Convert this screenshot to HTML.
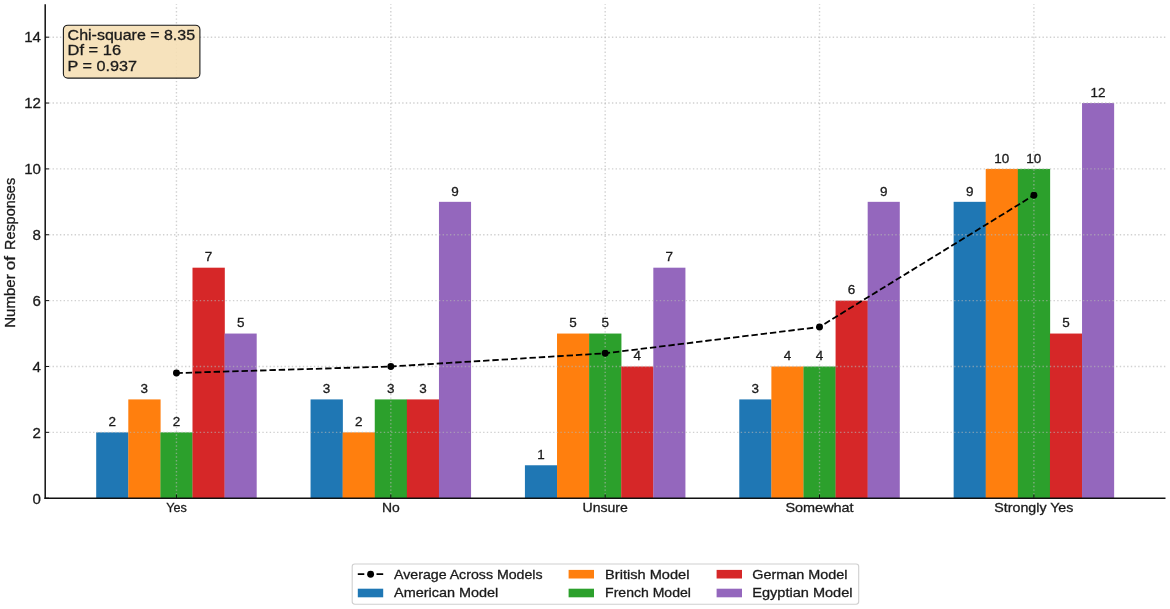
<!DOCTYPE html>
<html><head><meta charset="utf-8"><title>chart</title>
<style>
html,body{margin:0;padding:0;background:#fff;}
body{width:1170px;height:609px;overflow:hidden;font-family:"Liberation Sans", sans-serif;}
svg{display:block;will-change:transform;}
text{font-family:"Liberation Sans", sans-serif;fill:#1a1a1a;stroke:#1a1a1a;stroke-width:0.3px;}
</style></head><body>
<svg width="1170" height="609" viewBox="0 0 1170 609">
<rect x="0" y="0" width="1170" height="609" fill="#ffffff"/>

<g shape-rendering="geometricPrecision">
<rect x="96.20" y="432.34" width="32.30" height="65.86" fill="#1f77b4"/>
<rect x="310.56" y="399.41" width="32.30" height="98.79" fill="#1f77b4"/>
<rect x="524.92" y="465.27" width="32.30" height="32.93" fill="#1f77b4"/>
<rect x="739.28" y="399.41" width="32.30" height="98.79" fill="#1f77b4"/>
<rect x="953.64" y="201.83" width="32.30" height="296.37" fill="#1f77b4"/>
<rect x="128.30" y="399.41" width="32.30" height="98.79" fill="#ff7f0e"/>
<rect x="342.66" y="432.34" width="32.30" height="65.86" fill="#ff7f0e"/>
<rect x="557.02" y="333.55" width="32.30" height="164.65" fill="#ff7f0e"/>
<rect x="771.38" y="366.48" width="32.30" height="131.72" fill="#ff7f0e"/>
<rect x="985.74" y="168.90" width="32.30" height="329.30" fill="#ff7f0e"/>
<rect x="160.40" y="432.34" width="32.30" height="65.86" fill="#2ca02c"/>
<rect x="374.76" y="399.41" width="32.30" height="98.79" fill="#2ca02c"/>
<rect x="589.12" y="333.55" width="32.30" height="164.65" fill="#2ca02c"/>
<rect x="803.48" y="366.48" width="32.30" height="131.72" fill="#2ca02c"/>
<rect x="1017.84" y="168.90" width="32.30" height="329.30" fill="#2ca02c"/>
<rect x="192.50" y="267.69" width="32.30" height="230.51" fill="#d62728"/>
<rect x="406.86" y="399.41" width="32.30" height="98.79" fill="#d62728"/>
<rect x="621.22" y="366.48" width="32.30" height="131.72" fill="#d62728"/>
<rect x="835.58" y="300.62" width="32.30" height="197.58" fill="#d62728"/>
<rect x="1049.94" y="333.55" width="32.30" height="164.65" fill="#d62728"/>
<rect x="224.60" y="333.55" width="32.10" height="164.65" fill="#9467bd"/>
<rect x="438.96" y="201.83" width="32.10" height="296.37" fill="#9467bd"/>
<rect x="653.32" y="267.69" width="32.10" height="230.51" fill="#9467bd"/>
<rect x="867.68" y="201.83" width="32.10" height="296.37" fill="#9467bd"/>
<rect x="1082.04" y="103.04" width="32.10" height="395.16" fill="#9467bd"/>
</g>
<g stroke="#b4b4b4" stroke-opacity="0.62" stroke-width="1.39" stroke-dasharray="1.39 2.29" fill="none">
<line x1="45.20" y1="432.34" x2="1165.50" y2="432.34"/>
<line x1="45.20" y1="366.48" x2="1165.50" y2="366.48"/>
<line x1="45.20" y1="300.62" x2="1165.50" y2="300.62"/>
<line x1="45.20" y1="234.76" x2="1165.50" y2="234.76"/>
<line x1="45.20" y1="168.90" x2="1165.50" y2="168.90"/>
<line x1="45.20" y1="103.04" x2="1165.50" y2="103.04"/>
<line x1="45.20" y1="37.18" x2="1165.50" y2="37.18"/>
<line x1="176.45" y1="498.20" x2="176.45" y2="4.20"/>
<line x1="390.81" y1="498.20" x2="390.81" y2="4.20"/>
<line x1="605.17" y1="498.20" x2="605.17" y2="4.20"/>
<line x1="819.53" y1="498.20" x2="819.53" y2="4.20"/>
<line x1="1033.89" y1="498.20" x2="1033.89" y2="4.20"/>
</g>
<polyline points="176.45,373.07 390.81,366.48 605.17,353.31 819.53,326.96 1033.89,195.24" fill="none" stroke="#000" stroke-width="1.8" stroke-dasharray="6.4 2.9"/>
<circle cx="176.45" cy="373.07" r="3.45" fill="#000"/>
<circle cx="390.81" cy="366.48" r="3.45" fill="#000"/>
<circle cx="605.17" cy="353.31" r="3.45" fill="#000"/>
<circle cx="819.53" cy="326.96" r="3.45" fill="#000"/>
<circle cx="1033.89" cy="195.24" r="3.45" fill="#000"/>
<g stroke="#101010" fill="none">
<line x1="45.20" y1="4.20" x2="45.20" y2="498.95" stroke-width="1.5"/>
<line x1="44.45" y1="498.20" x2="1165.50" y2="498.20" stroke-width="1.5"/>
<line x1="45.20" y1="498.20" x2="49.00" y2="498.20" stroke-width="1.0"/>
<line x1="45.20" y1="432.34" x2="49.00" y2="432.34" stroke-width="1.0"/>
<line x1="45.20" y1="366.48" x2="49.00" y2="366.48" stroke-width="1.0"/>
<line x1="45.20" y1="300.62" x2="49.00" y2="300.62" stroke-width="1.0"/>
<line x1="45.20" y1="234.76" x2="49.00" y2="234.76" stroke-width="1.0"/>
<line x1="45.20" y1="168.90" x2="49.00" y2="168.90" stroke-width="1.0"/>
<line x1="45.20" y1="103.04" x2="49.00" y2="103.04" stroke-width="1.0"/>
<line x1="45.20" y1="37.18" x2="49.00" y2="37.18" stroke-width="1.0"/>
<line x1="176.45" y1="498.20" x2="176.45" y2="494.40" stroke-width="1.0"/>
<line x1="390.81" y1="498.20" x2="390.81" y2="494.40" stroke-width="1.0"/>
<line x1="605.17" y1="498.20" x2="605.17" y2="494.40" stroke-width="1.0"/>
<line x1="819.53" y1="498.20" x2="819.53" y2="494.40" stroke-width="1.0"/>
<line x1="1033.89" y1="498.20" x2="1033.89" y2="494.40" stroke-width="1.0"/>
</g>
<text x="41.0" y="503.50" font-size="15.3" text-anchor="end" textLength="8.4" lengthAdjust="spacingAndGlyphs">0</text>
<text x="41.0" y="437.64" font-size="15.3" text-anchor="end" textLength="8.4" lengthAdjust="spacingAndGlyphs">2</text>
<text x="41.0" y="371.78" font-size="15.3" text-anchor="end" textLength="8.4" lengthAdjust="spacingAndGlyphs">4</text>
<text x="41.0" y="305.92" font-size="15.3" text-anchor="end" textLength="8.4" lengthAdjust="spacingAndGlyphs">6</text>
<text x="41.0" y="240.06" font-size="15.3" text-anchor="end" textLength="8.4" lengthAdjust="spacingAndGlyphs">8</text>
<text x="41.0" y="174.20" font-size="15.3" text-anchor="end" textLength="16.8" lengthAdjust="spacingAndGlyphs">10</text>
<text x="41.0" y="108.34" font-size="15.3" text-anchor="end" textLength="16.8" lengthAdjust="spacingAndGlyphs">12</text>
<text x="41.0" y="42.48" font-size="15.3" text-anchor="end" textLength="16.8" lengthAdjust="spacingAndGlyphs">14</text>
<text x="176.45" y="511.9" font-size="13.3" text-anchor="middle" textLength="20.6" lengthAdjust="spacingAndGlyphs">Yes</text>
<text x="390.81" y="511.9" font-size="13.3" text-anchor="middle" textLength="17.8" lengthAdjust="spacingAndGlyphs">No</text>
<text x="605.17" y="511.9" font-size="13.3" text-anchor="middle" textLength="45.4" lengthAdjust="spacingAndGlyphs">Unsure</text>
<text x="819.53" y="511.9" font-size="13.3" text-anchor="middle" textLength="68.2" lengthAdjust="spacingAndGlyphs">Somewhat</text>
<text x="1033.89" y="511.9" font-size="13.3" text-anchor="middle" textLength="79.0" lengthAdjust="spacingAndGlyphs">Strongly Yes</text>
<g transform="translate(14.6,326.8) rotate(-90)" font-size="14.8">
<text x="-1.0" y="0" textLength="53.5" lengthAdjust="spacingAndGlyphs">Number</text>
<text x="56.6" y="0" textLength="14.3" lengthAdjust="spacingAndGlyphs">of</text>
<text x="76.8" y="0" textLength="72.1" lengthAdjust="spacingAndGlyphs">Responses</text>
</g>
<text x="112.25" y="426.04" font-size="12.8" text-anchor="middle" textLength="7.5" lengthAdjust="spacingAndGlyphs">2</text>
<text x="326.61" y="393.11" font-size="12.8" text-anchor="middle" textLength="7.5" lengthAdjust="spacingAndGlyphs">3</text>
<text x="540.97" y="458.97" font-size="12.8" text-anchor="middle" textLength="7.5" lengthAdjust="spacingAndGlyphs">1</text>
<text x="755.33" y="393.11" font-size="12.8" text-anchor="middle" textLength="7.5" lengthAdjust="spacingAndGlyphs">3</text>
<text x="969.69" y="195.53" font-size="12.8" text-anchor="middle" textLength="7.5" lengthAdjust="spacingAndGlyphs">9</text>
<text x="144.35" y="393.11" font-size="12.8" text-anchor="middle" textLength="7.5" lengthAdjust="spacingAndGlyphs">3</text>
<text x="358.71" y="426.04" font-size="12.8" text-anchor="middle" textLength="7.5" lengthAdjust="spacingAndGlyphs">2</text>
<text x="573.07" y="327.25" font-size="12.8" text-anchor="middle" textLength="7.5" lengthAdjust="spacingAndGlyphs">5</text>
<text x="787.43" y="360.18" font-size="12.8" text-anchor="middle" textLength="7.5" lengthAdjust="spacingAndGlyphs">4</text>
<text x="1001.79" y="162.60" font-size="12.8" text-anchor="middle" textLength="15.0" lengthAdjust="spacingAndGlyphs">10</text>
<text x="176.45" y="426.04" font-size="12.8" text-anchor="middle" textLength="7.5" lengthAdjust="spacingAndGlyphs">2</text>
<text x="390.81" y="393.11" font-size="12.8" text-anchor="middle" textLength="7.5" lengthAdjust="spacingAndGlyphs">3</text>
<text x="605.17" y="327.25" font-size="12.8" text-anchor="middle" textLength="7.5" lengthAdjust="spacingAndGlyphs">5</text>
<text x="819.53" y="360.18" font-size="12.8" text-anchor="middle" textLength="7.5" lengthAdjust="spacingAndGlyphs">4</text>
<text x="1033.89" y="162.60" font-size="12.8" text-anchor="middle" textLength="15.0" lengthAdjust="spacingAndGlyphs">10</text>
<text x="208.55" y="261.39" font-size="12.8" text-anchor="middle" textLength="7.5" lengthAdjust="spacingAndGlyphs">7</text>
<text x="422.91" y="393.11" font-size="12.8" text-anchor="middle" textLength="7.5" lengthAdjust="spacingAndGlyphs">3</text>
<text x="637.27" y="360.18" font-size="12.8" text-anchor="middle" textLength="7.5" lengthAdjust="spacingAndGlyphs">4</text>
<text x="851.63" y="294.32" font-size="12.8" text-anchor="middle" textLength="7.5" lengthAdjust="spacingAndGlyphs">6</text>
<text x="1065.99" y="327.25" font-size="12.8" text-anchor="middle" textLength="7.5" lengthAdjust="spacingAndGlyphs">5</text>
<text x="240.65" y="327.25" font-size="12.8" text-anchor="middle" textLength="7.5" lengthAdjust="spacingAndGlyphs">5</text>
<text x="455.01" y="195.53" font-size="12.8" text-anchor="middle" textLength="7.5" lengthAdjust="spacingAndGlyphs">9</text>
<text x="669.37" y="261.39" font-size="12.8" text-anchor="middle" textLength="7.5" lengthAdjust="spacingAndGlyphs">7</text>
<text x="883.73" y="195.53" font-size="12.8" text-anchor="middle" textLength="7.5" lengthAdjust="spacingAndGlyphs">9</text>
<text x="1098.09" y="96.74" font-size="12.8" text-anchor="middle" textLength="15.0" lengthAdjust="spacingAndGlyphs">12</text>
<rect x="63.4" y="25.2" width="136.5" height="52.9" rx="4.4" ry="4.4" fill="#f5deb3" fill-opacity="0.88" stroke="#1a1a1a" stroke-width="1.1"/>
<text x="67.6" y="39.90" font-size="14.6" textLength="127.5" lengthAdjust="spacingAndGlyphs">Chi-square = 8.35</text>
<text x="67.6" y="55.30" font-size="14.6" textLength="53.5" lengthAdjust="spacingAndGlyphs">Df = 16</text>
<text x="67.6" y="70.70" font-size="14.6" textLength="69.5" lengthAdjust="spacingAndGlyphs">P = 0.937</text>
<rect x="352.2" y="564" width="506.5" height="40.2" rx="2.6" ry="2.6" fill="#fff" stroke="#cfcfcf" stroke-width="1.1"/>
<path d="M357.8 574.2H364.3M376.5 574.2H383.2" stroke="#000" stroke-width="1.8" fill="none"/>
<circle cx="370.6" cy="574.2" r="3.45" fill="#000"/>
<text x="394.0" y="578.50" font-size="13" textLength="148.6" lengthAdjust="spacingAndGlyphs">Average Across Models</text>
<rect x="357.8" y="588.70" width="25.4" height="8.6" fill="#1f77b4"/>
<text x="394.0" y="597.30" font-size="13" textLength="104.3" lengthAdjust="spacingAndGlyphs">American Model</text>
<rect x="568.6" y="569.90" width="25.4" height="8.6" fill="#ff7f0e"/>
<text x="605.1" y="578.50" font-size="13" textLength="84.3" lengthAdjust="spacingAndGlyphs">British Model</text>
<rect x="568.6" y="588.70" width="25.4" height="8.6" fill="#2ca02c"/>
<text x="605.1" y="597.30" font-size="13" textLength="85.8" lengthAdjust="spacingAndGlyphs">French Model</text>
<rect x="716.6" y="569.90" width="25.4" height="8.6" fill="#d62728"/>
<text x="752.3" y="578.50" font-size="13" textLength="95.2" lengthAdjust="spacingAndGlyphs">German Model</text>
<rect x="716.6" y="588.70" width="25.4" height="8.6" fill="#9467bd"/>
<text x="752.3" y="597.30" font-size="13" textLength="100.2" lengthAdjust="spacingAndGlyphs">Egyptian Model</text>
</svg></body></html>
